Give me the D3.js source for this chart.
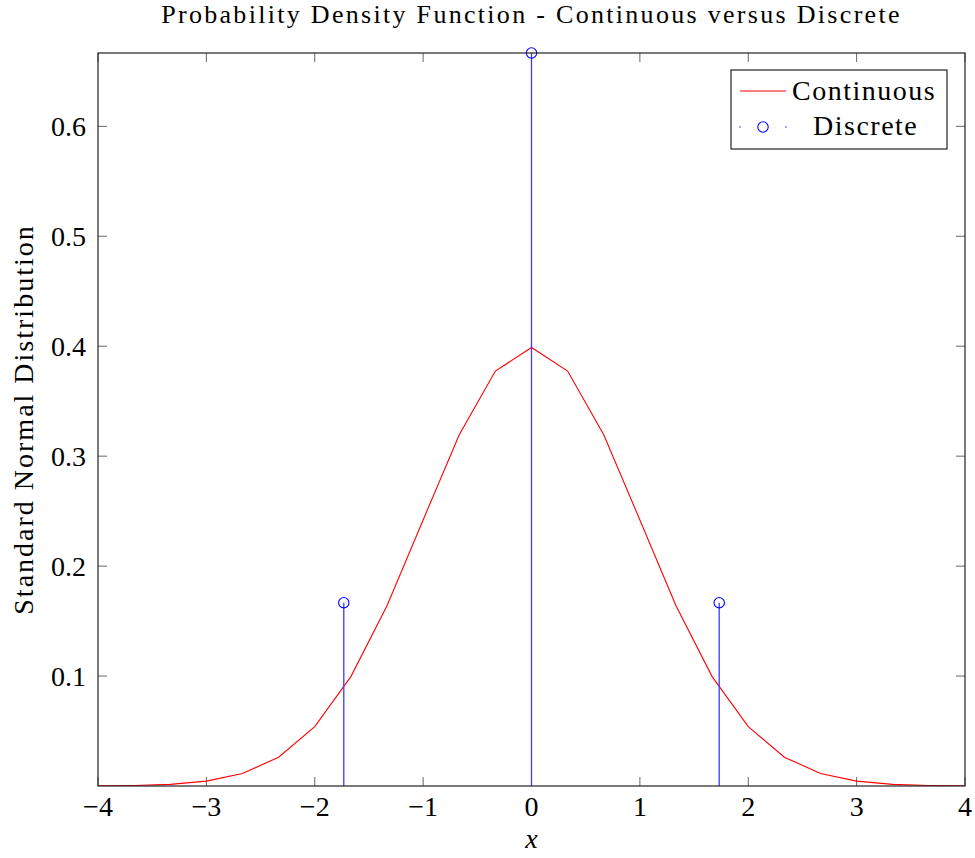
<!DOCTYPE html>
<html>
<head>
<meta charset="utf-8">
<script src="https://cdn.jsdelivr.net/npm/d3@7"></script>
<style>
  body { margin: 0; background: #fff; }
  text { font-family: "Liberation Serif", "DejaVu Serif", serif; fill: #000; }
  .frame { fill: none; stroke: #222; stroke-width: 1.2; }
  .tick line { stroke: #666; stroke-width: 1; }
  .wide { letter-spacing: 1.5px; }
</style>
</head>
<body>
<svg id="chart"></svg>
<script>
// continuous curve, sampled every 1/3 from -4 to 4
var contX = [-4, -11/3, -10/3, -3, -8/3, -7/3, -2, -5/3, -4/3, -1, -2/3, -1/3, 0,
	1/3, 2/3, 1, 4/3, 5/3, 2, 7/3, 8/3, 3, 10/3, 11/3, 4];
var contY = [0.0001, 0.0005, 0.0015, 0.0044, 0.0114, 0.0262, 0.0540, 0.0995, 0.1640, 0.2420, 0.3194, 0.3774, 0.3989,
	0.3774, 0.3194, 0.2420, 0.1640, 0.0995, 0.0540, 0.0262, 0.0114, 0.0044, 0.0015, 0.0005, 0.0001];

// discrete points (stems)
var discX = [-1.732, 0, 1.732];
var discY = [0.1667, 0.6667, 0.1667];

var xTicks = [-4, -3, -2, -1, 0, 1, 2, 3, 4];
var yTicks = [0.1, 0.2, 0.3, 0.4, 0.5, 0.6];

var W = 975, H = 858;
var margin = {top: 53, right: 10, bottom: 72, left: 98},
	width = W - margin.left - margin.right,
	height = H - margin.top - margin.bottom;

var svg = d3.select("#chart").attr("width", W).attr("height", H);
var g = svg.append("g")
	.attr("transform", "translate(" + margin.left + "," + margin.top + ")");

var x = d3.scaleLinear().domain([-4, 4]).range([0, width]);
var y = d3.scaleLinear().domain([0, 0.6667]).range([height, 0]);

var fmtX = function (d) { return d < 0 ? "\u2212" + Math.abs(d) : String(d); };

// ticks, inward on all four sides
var tl = 9;
g.append("g").attr("class", "tick").selectAll("line")
	.data(xTicks).enter().append("line")
		.attr("x1", function (d) { return x(d); }).attr("x2", function (d) { return x(d); })
		.attr("y1", height).attr("y2", height - tl);
g.append("g").attr("class", "tick").selectAll("line")
	.data(xTicks).enter().append("line")
		.attr("x1", function (d) { return x(d); }).attr("x2", function (d) { return x(d); })
		.attr("y1", 0).attr("y2", tl);
g.append("g").attr("class", "tick").selectAll("line")
	.data(yTicks).enter().append("line")
		.attr("x1", 0).attr("x2", tl)
		.attr("y1", function (d) { return y(d); }).attr("y2", function (d) { return y(d); });
g.append("g").attr("class", "tick").selectAll("line")
	.data(yTicks).enter().append("line")
		.attr("x1", width).attr("x2", width - tl)
		.attr("y1", function (d) { return y(d); }).attr("y2", function (d) { return y(d); });

// tick labels
g.selectAll(".xlab").data(xTicks).enter().append("text")
	.attr("class", "xlab")
	.attr("x", function (d) { return x(d); })
	.attr("y", height + 30)
	.attr("text-anchor", "middle")
	.style("font-size", "28px")
	.text(fmtX);
g.selectAll(".ylab").data(yTicks).enter().append("text")
	.attr("class", "ylab")
	.attr("x", -12)
	.attr("y", function (d) { return y(d) + 10; })
	.attr("text-anchor", "end")
	.style("font-size", "28px")
	.text(function (d) { return d3.format(".1f")(d); });

// clip to the axis box
g.append("clipPath").attr("id", "clip")
	.append("rect").attr("x", -8).attr("y", -8).attr("width", width + 16).attr("height", height + 8);

var plot = g.append("g").attr("clip-path", "url(#clip)");

var line = d3.line()
	.x(function (d, i) { return x(contX[i]); })
	.y(function (d) { return y(d); });
plot.append("path")
	.datum(contY)
	.attr("d", line)
	.attr("fill", "none")
	.attr("stroke", "#ff0000")
	.attr("stroke-width", 1.1);

plot.selectAll(".stem").data(discY).enter().append("line")
	.attr("class", "stem")
	.attr("x1", function (d, i) { return x(discX[i]); })
	.attr("x2", function (d, i) { return x(discX[i]); })
	.attr("y1", y(0))
	.attr("y2", function (d) { return y(d); })
	.attr("stroke", "#3b3bff")
	.attr("stroke-width", 1.3);
plot.selectAll(".dot").data(discY).enter().append("circle")
	.attr("class", "dot")
	.attr("cx", function (d, i) { return x(discX[i]); })
	.attr("cy", function (d) { return y(d); })
	.attr("r", 5.2)
	.attr("fill", "none")
	.attr("stroke", "#0000ff")
	.attr("stroke-width", 1.1);

// frame
g.append("rect").attr("class", "frame")
	.attr("x", 0).attr("y", 0).attr("width", width).attr("height", height);

// legend
var lg = svg.append("g").attr("transform", "translate(731,70)");
lg.append("rect").attr("width", 216).attr("height", 79)
	.attr("fill", "#fff").attr("stroke", "#222").attr("stroke-width", 1.2);
lg.append("line").attr("x1", 9).attr("x2", 55).attr("y1", 21).attr("y2", 21)
	.attr("stroke", "#ff0000").attr("stroke-width", 1.1);
lg.append("text").attr("class", "wide").attr("x", 61).attr("y", 30).style("font-size", "28px").text("Continuous");
lg.append("circle").attr("cx", 32).attr("cy", 57).attr("r", 5.2)
	.attr("fill", "none").attr("stroke", "#0000ff").attr("stroke-width", 1.1);
lg.selectAll(".ldot").data([9, 55]).enter().append("circle")
	.attr("cx", function (d) { return d; }).attr("cy", 57).attr("r", 0.8)
	.attr("fill", "#3b3bff");
lg.append("text").attr("class", "wide").attr("x", 82).attr("y", 65).style("font-size", "28px").text("Discrete");

// titles
svg.append("text")
	.attr("x", margin.left + width / 2).attr("y", 23)
	.attr("text-anchor", "middle")
	.style("font-size", "26px")
	.style("letter-spacing", "2.3px")
	.text("Probability Density Function - Continuous versus Discrete");
svg.append("text")
	.attr("x", margin.left + width / 2).attr("y", 848)
	.attr("text-anchor", "middle")
	.style("font-size", "28px").style("font-style", "italic")
	.text("x");
svg.append("text")
	.attr("transform", "translate(33," + (margin.top + height / 2) + ") rotate(-90)")
	.attr("text-anchor", "middle")
	.style("font-size", "28px")
	.style("letter-spacing", "2px")
	.text("Standard Normal Distribution");
</script>
</body>
</html>
